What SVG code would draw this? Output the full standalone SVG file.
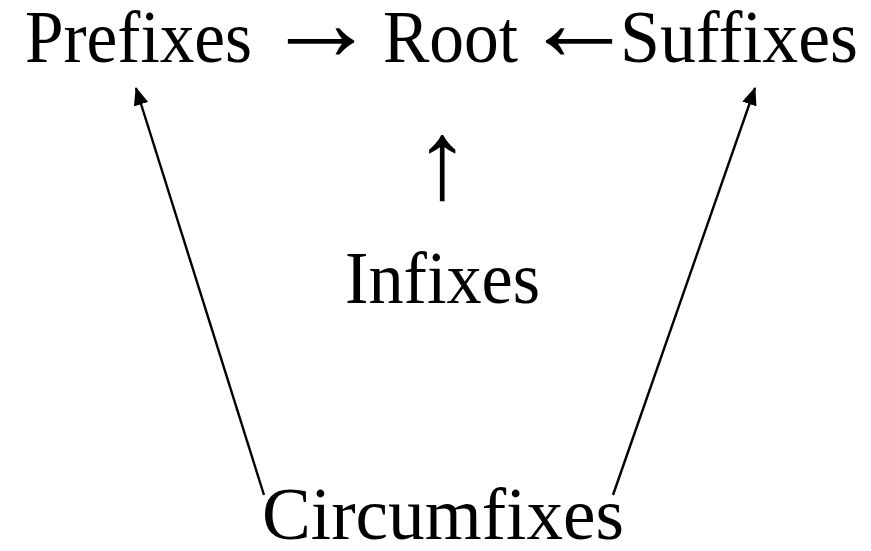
<svg xmlns="http://www.w3.org/2000/svg" width="871" height="551" viewBox="0 0 871 551">
<style>
.t{font-family:"Liberation Serif","Times New Roman",serif;font-size:74px;fill:#000}
.a{font-family:"Liberation Serif","Times New Roman",serif;font-size:112px;fill:#000;text-anchor:middle}
.c{stroke:#000;stroke-width:2.4;fill:none}
</style>
<defs>
<marker id="ah" viewBox="0 0 18 15" refX="17" refY="7.5" markerWidth="18" markerHeight="15" markerUnits="userSpaceOnUse" orient="auto">
<path d="M0,0 L18,7.5 L0,15 Z" fill="#000"/>
</marker>
</defs>
<rect width="871" height="551" fill="#fff"/>
<g id="top">
<text id="prefixes" class="t" x="25" y="62" textLength="227" lengthAdjust="spacingAndGlyphs">Prefixes</text>
<text class="a" x="321" y="60">→</text>
<text id="root" class="t" x="383" y="62" textLength="135" lengthAdjust="spacingAndGlyphs">Root</text>
<text class="a" x="579" y="60">←</text>
<text id="suffixes" class="t" x="620" y="62" textLength="238" lengthAdjust="spacingAndGlyphs">Suffixes</text>
</g>
<g id="uparrow">
<text class="a" x="442" y="198">↑</text>
</g>
<g id="infixes">
<text class="t" x="345" y="303" textLength="195" lengthAdjust="spacingAndGlyphs">Infixes</text>
</g>
<g id="circumfixes">
<text class="t" x="262" y="539" textLength="362" lengthAdjust="spacingAndGlyphs">Circumfixes</text>
</g>
<g id="connectors">
<line class="c" x1="264" y1="495" x2="136" y2="88" marker-end="url(#ah)"/>
<line class="c" x1="613" y1="495" x2="755" y2="88" marker-end="url(#ah)"/>
</g>
</svg>
